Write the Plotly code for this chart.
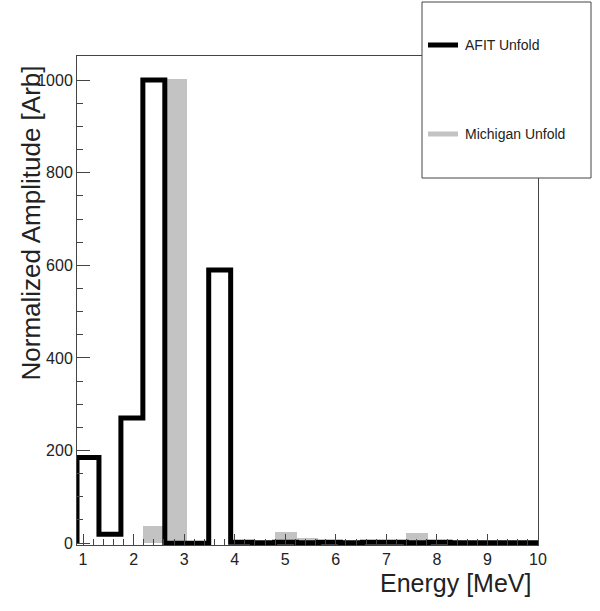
import plotly.graph_objects as go

# ---- data ----
bin_lo = 0.88
bin_hi = 10.0
n_bins = 21
afit_unfold = [185, 19, 270, 1000, 0, 0, 590, 2, 1, 2, 1, 2, 1, 2, 2, 1, 2, 1, 1, 1, 1]
michigan_unfold = [0, 0, 0, 38, 1003, 0, 0, 0, 0, 25, 12, 5, 0, 0, 0, 22, 3, 0, 0, 0, 0]
x_tick_vals = [1, 2, 3, 4, 5, 6, 7, 8, 9, 10]
y_tick_vals = [0, 200, 400, 600, 800, 1000]

bw = (bin_hi - bin_lo) / n_bins
edges = [bin_lo + i * bw for i in range(n_bins + 1)]
centers = [bin_lo + (i + 0.5) * bw for i in range(n_bins)]

W, H = 600, 611
L, R, T, B = 77, 538, 56, 545  # plot area in pixels
pw, ph = R - L, B - T


def px(xp):
    return (xp - L) / pw


def py(yp):
    return (B - yp) / ph


FONT = "Liberation Sans, Arial, Helvetica, sans-serif"
AX = "#444444"

fig = go.Figure()
fig.add_trace(go.Bar(
    x=centers, y=michigan_unfold, width=bw,
    marker=dict(color="#c3c3c3", line=dict(width=0)),
    showlegend=False, hoverinfo="x+y",
))
fig.add_trace(go.Scatter(
    x=[edges[0]] + edges,
    y=[0] + afit_unfold + [afit_unfold[-1]],
    mode="lines", line=dict(color="black", width=5, shape="hv"),
    showlegend=False,
))

fig.update_layout(
    width=W, height=H,
    margin=dict(l=L, r=W - R, t=T, b=H - B),
    paper_bgcolor="white", plot_bgcolor="white",
    font=dict(family=FONT, color="#222222", size=16),
    bargap=0,
    xaxis=dict(
        range=[bin_lo, bin_hi], tickvals=x_tick_vals,
        ticks="inside", ticklen=11, tickcolor=AX, tickwidth=1,
        minor=dict(dtick=0.2, ticks="inside", ticklen=6, tickcolor=AX),
        showline=True, linecolor=AX, linewidth=1, mirror=True,
        showgrid=False, zeroline=False,
        tickfont=dict(size=16, family=FONT),
    ),
    yaxis=dict(
        range=[-4, 1052], tickvals=y_tick_vals,
        ticks="inside", ticklen=13, tickcolor=AX, tickwidth=1,
        minor=dict(dtick=50, ticks="inside", ticklen=6, tickcolor=AX),
        showline=True, linecolor=AX, linewidth=1, mirror=True,
        showgrid=False, zeroline=False,
        tickfont=dict(size=16, family=FONT),
    ),
)

# axis titles
fig.add_annotation(
    text="Energy [MeV]", xref="paper", yref="paper",
    x=px(533), y=py(583), xanchor="right", yanchor="middle",
    showarrow=False, font=dict(size=25, family=FONT, color="#222222"),
)
fig.add_annotation(
    text="Normalized Amplitude [Arb]", xref="paper", yref="paper",
    x=px(30), y=py(64), xanchor="center", yanchor="top", textangle=-90,
    showarrow=False, font=dict(size=26, family=FONT, color="#222222"),
)

# legend box
fig.add_shape(type="rect", xref="paper", yref="paper",
              x0=px(422), x1=px(591), y0=py(178), y1=py(2),
              fillcolor="white", line=dict(color=AX, width=1), layer="above")
fig.add_shape(type="line", xref="paper", yref="paper",
              x0=px(428), x1=px(458), y0=py(45), y1=py(45),
              line=dict(color="black", width=5), layer="above")
fig.add_shape(type="line", xref="paper", yref="paper",
              x0=px(428), x1=px(458), y0=py(134), y1=py(134),
              line=dict(color="#c3c3c3", width=5), layer="above")
fig.add_annotation(text="AFIT Unfold", xref="paper", yref="paper",
                   x=px(463), y=py(45), xanchor="left", yanchor="middle",
                   showarrow=False, font=dict(size=14, family=FONT, color="#222222"))
fig.add_annotation(text="Michigan Unfold", xref="paper", yref="paper",
                   x=px(463), y=py(134), xanchor="left", yanchor="middle",
                   showarrow=False, font=dict(size=14, family=FONT, color="#222222"))

fig.write_html("out.html")
